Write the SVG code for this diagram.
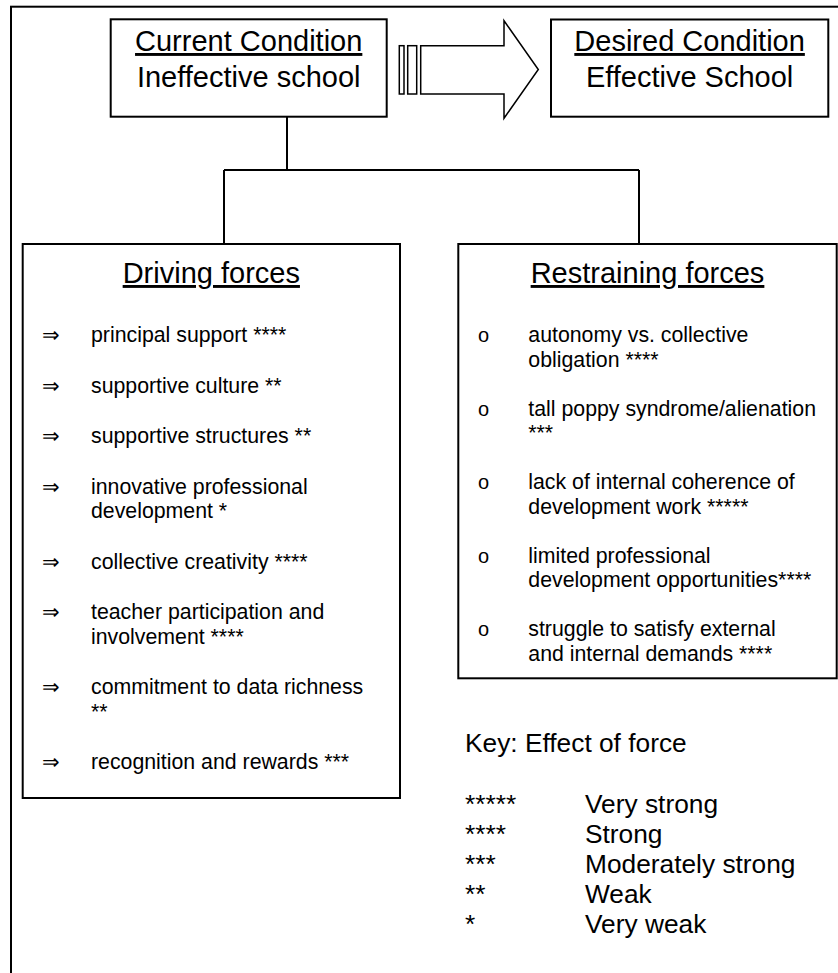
<svg xmlns="http://www.w3.org/2000/svg" width="838" height="973" viewBox="0 0 838 973">
<style>
text{font-family:"Liberation Sans",Arial,sans-serif;fill:#000}
.box{fill:#fff;stroke:#000;stroke-width:2}
.ln{fill:none;stroke:#000;stroke-width:2}
.t{font-size:29px;text-anchor:middle}
.u{text-decoration:underline}
.i{font-size:21.3px}
.ar{font-family:"DejaVu Sans",sans-serif;font-size:21px}
.bu{font-family:"Liberation Mono","Courier New",monospace;font-size:20px}
.k{font-size:26.3px}
</style>
<rect x="11" y="6.7" width="840" height="980" fill="none" stroke="#000" stroke-width="2"/>
<g id="connectors">
<path class="ln" d="M287,116.7 V170 M224,170 H639 M224,170 V244 M639,170 V244"/>
</g>
<g id="current">
<rect class="box" x="110.7" y="19.3" width="276" height="97.4"/>
<text class="t u" x="248.7" y="51">Current Condition</text>
<text class="t" x="248.7" y="87">Ineffective school</text>
</g>
<g id="arrow">
<rect x="399.3" y="45.7" width="4.7" height="48.3" fill="#fff" stroke="#000" stroke-width="1.5"/>
<rect x="407.7" y="45.7" width="9" height="48.3" fill="#fff" stroke="#000" stroke-width="1.5"/>
<path d="M420.7,45.7 H504 V20.7 L538.3,69.5 L504,118.3 V94 H420.7 Z" fill="#fff" stroke="#000" stroke-width="1.5"/>
</g>
<g id="desired">
<rect class="box" x="551" y="19.5" width="277.3" height="97.2"/>
<text class="t u" x="689.6" y="51">Desired Condition</text>
<text class="t" x="689.6" y="87">Effective School</text>
</g>
<g id="driving">
<rect class="box" x="22.7" y="244" width="377.3" height="554"/>
<text class="t u" x="211.3" y="283">Driving forces</text>
<g class="ar">
<text x="42" y="342">⇒</text>
<text x="42" y="392.5">⇒</text>
<text x="42" y="443">⇒</text>
<text x="42" y="493.5">⇒</text>
<text x="42" y="568.5">⇒</text>
<text x="42" y="619">⇒</text>
<text x="42" y="694">⇒</text>
<text x="42" y="769">⇒</text>
</g>
<g class="i">
<text x="91" y="342">principal support ****</text>
<text x="91" y="392.5">supportive culture **</text>
<text x="91" y="443">supportive structures **</text>
<text x="91" y="493.5">innovative professional</text>
<text x="91" y="518">development *</text>
<text x="91" y="568.5">collective creativity ****</text>
<text x="91" y="619">teacher participation and</text>
<text x="91" y="643.5">involvement ****</text>
<text x="91" y="694">commitment to data richness</text>
<text x="91" y="718.5">**</text>
<text x="91" y="769">recognition and rewards ***</text>
</g>
</g>
<g id="restraining">
<rect class="box" x="458.3" y="244" width="378.4" height="434.3"/>
<text class="t u" x="647.5" y="283">Restraining forces</text>
<g class="bu">
<text x="478" y="342">o</text>
<text x="478" y="415.5">o</text>
<text x="478" y="489">o</text>
<text x="478" y="562.5">o</text>
<text x="478" y="636">o</text>
</g>
<g class="i">
<text x="528.3" y="342">autonomy vs. collective</text>
<text x="528.3" y="366.5">obligation ****</text>
<text x="528.3" y="415.5">tall poppy syndrome/alienation</text>
<text x="528.3" y="440">***</text>
<text x="528.3" y="489">lack of internal coherence of</text>
<text x="528.3" y="513.5">development work *****</text>
<text x="528.3" y="562.5">limited professional</text>
<text x="528.3" y="587">development opportunities****</text>
<text x="528.3" y="636">struggle to satisfy external</text>
<text x="528.3" y="660.5">and internal demands ****</text>
</g>
</g>
<g id="key" class="k">
<text x="465" y="752">Key: Effect of force</text>
<text x="465" y="813">*****</text>
<text x="585" y="813">Very strong</text>
<text x="465" y="843">****</text>
<text x="585" y="843">Strong</text>
<text x="465" y="873">***</text>
<text x="585" y="873">Moderately strong</text>
<text x="465" y="903">**</text>
<text x="585" y="903">Weak</text>
<text x="465" y="933">*</text>
<text x="585" y="933">Very weak</text>
</g>
</svg>
